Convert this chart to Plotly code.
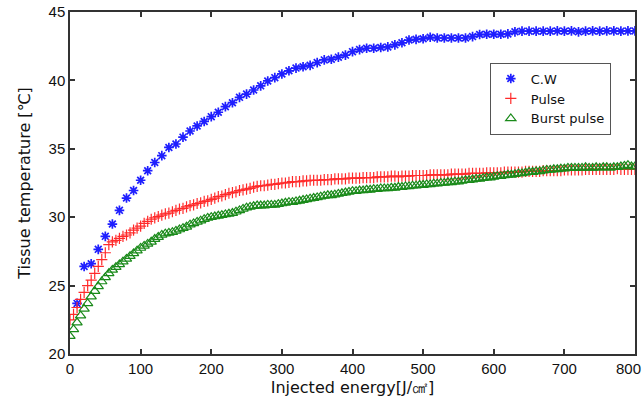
import plotly.graph_objects as go

# Injected energy grids [J/cm^2]
energy_cw = list(range(10, 801, 10))
energy_pulse = list(range(0, 801, 5))
energy_burst = list(range(0, 801, 5))

# Tissue temperature [°C] for continuous-wave irradiation
temp_cw = [
    23.7, 26.4, 26.6, 27.65, 28.6, 29.5, 30.5, 31.4, 31.95, 32.7,
    33.4, 34.0, 34.5, 35.1, 35.35, 35.85, 36.3, 36.67, 37.0, 37.35,
    37.67, 38.08, 38.37, 38.76, 39.0, 39.3, 39.6, 39.96, 40.2, 40.47,
    40.7, 40.9, 41.0, 41.1, 41.3, 41.5, 41.55, 41.7, 41.85, 42.1,
    42.25, 42.35, 42.35, 42.4, 42.45, 42.6, 42.75, 42.95, 43.0, 43.05,
    43.15, 43.1, 43.1, 43.1, 43.1, 43.1, 43.2, 43.35, 43.37, 43.37,
    43.37, 43.4, 43.55, 43.6, 43.6, 43.6, 43.6, 43.6, 43.62, 43.6,
    43.62, 43.55, 43.6, 43.62, 43.6, 43.62, 43.62, 43.6, 43.62, 43.62,
]

# Tissue temperature [°C] for pulse irradiation
temp_pulse = [
    22.5, 22.9, 23.4, 24.0, 24.5, 25.0, 25.4, 25.9, 26.4, 26.9,
    27.4, 28.0, 28.2, 28.3, 28.45, 28.6, 28.7, 28.85, 29.05, 29.2,
    29.35, 29.55, 29.7, 29.85, 29.95, 30.05, 30.15, 30.25, 30.3, 30.4,
    30.5, 30.6, 30.65, 30.75, 30.85, 30.9, 31.0, 31.05, 31.15, 31.2,
    31.3, 31.4, 31.5, 31.55, 31.65, 31.75, 31.8, 31.85, 31.95, 32.0,
    32.05, 32.1, 32.2, 32.25, 32.3, 32.3, 32.35, 32.4, 32.4, 32.45,
    32.5, 32.5, 32.55, 32.6, 32.6, 32.6, 32.65, 32.65, 32.7, 32.7,
    32.7, 32.7, 32.75, 32.75, 32.75, 32.8, 32.8, 32.8, 32.8, 32.85,
    32.85, 32.85, 32.85, 32.9, 32.9, 32.9, 32.9, 32.95, 32.95, 32.95,
    32.95, 33.0, 33.0, 32.95, 33.0, 33.0, 33.0, 33.05, 33.05, 33.05,
    33.05, 33.05, 33.1, 33.1, 33.1, 33.1, 33.1, 33.1, 33.15, 33.15,
    33.15, 33.15, 33.15, 33.2, 33.2, 33.2, 33.2, 33.2, 33.25, 33.25,
    33.25, 33.25, 33.25, 33.3, 33.3, 33.3, 33.3, 33.3, 33.3, 33.35,
    33.35, 33.35, 33.35, 33.35, 33.4, 33.4, 33.4, 33.4, 33.4, 33.4,
    33.45, 33.45, 33.45, 33.45, 33.45, 33.45, 33.5, 33.5, 33.5, 33.5,
    33.5, 33.5, 33.5, 33.5, 33.5, 33.55, 33.5, 33.5, 33.5, 33.5,
    33.5,
]

# Tissue temperature [°C] for burst-pulse irradiation
temp_burst = [
    21.3, 21.8, 22.3, 22.8, 23.3, 23.7, 24.2, 24.6, 24.95, 25.3,
    25.6, 25.9, 26.15, 26.35, 26.55, 26.75, 26.95, 27.15, 27.35, 27.55,
    27.75, 27.9, 28.05, 28.2, 28.4, 28.55, 28.7, 28.8, 28.85, 28.9,
    29.0, 29.1, 29.2, 29.3, 29.45, 29.55, 29.65, 29.75, 29.85, 29.95,
    30.0, 30.05, 30.1, 30.15, 30.2, 30.25, 30.3, 30.4, 30.5, 30.6,
    30.7, 30.75, 30.8, 30.85, 30.85, 30.85, 30.9, 30.9, 30.9, 30.95,
    31.0, 31.05, 31.1, 31.1, 31.15, 31.2, 31.25, 31.3, 31.35, 31.4,
    31.45, 31.5, 31.55, 31.6, 31.6, 31.65, 31.7, 31.75, 31.8, 31.85,
    31.9, 31.9, 31.95, 31.95, 32.0, 32.0, 32.05, 32.05, 32.1, 32.1,
    32.1, 32.15, 32.15, 32.2, 32.2, 32.25, 32.25, 32.3, 32.3, 32.35,
    32.35, 32.4, 32.4, 32.45, 32.45, 32.5, 32.5, 32.55, 32.55, 32.6,
    32.6, 32.65, 32.7, 32.7, 32.75, 32.8, 32.8, 32.85, 32.9, 32.9,
    32.95, 33.0, 33.0, 33.05, 33.1, 33.1, 33.15, 33.2, 33.2, 33.25,
    33.3, 33.3, 33.35, 33.35, 33.4, 33.45, 33.45, 33.5, 33.5, 33.55,
    33.55, 33.6, 33.6, 33.6, 33.6, 33.6, 33.65, 33.6, 33.6, 33.65,
    33.6, 33.65, 33.65, 33.6, 33.65, 33.65, 33.7, 33.75, 33.8, 33.7,
    33.7,
]

x_ticks = [0, 100, 200, 300, 400, 500, 600, 700, 800]
# the last label is placed separately so it stays inside the page
x_ticktext = ["0", "100", "200", "300", "400", "500", "600", "700", ""]
y_ticks = [20, 25, 30, 35, 40, 45]

BLUE = "#1f1fff"
RED = "#ff2a2a"
GREEN = "#1a8a1a"
TEXT_FONT = "DejaVu Sans, sans-serif"
TICK_FONT = dict(family="Liberation Sans, Arial, sans-serif", size=15, color="#111111")

fig = go.Figure()

fig.add_trace(go.Scatter(
    x=energy_cw, y=temp_cw, mode="markers", name="C.W",
    marker=dict(symbol="asterisk-open", size=8, color=BLUE,
                line=dict(color=BLUE, width=1.7)),
))
fig.add_trace(go.Scatter(
    x=energy_pulse, y=temp_pulse, mode="markers", name="Pulse",
    marker=dict(symbol="cross-thin-open", size=8, color=RED,
                line=dict(color=RED, width=1.2)),
))
fig.add_trace(go.Scatter(
    x=energy_burst, y=temp_burst, mode="markers", name="Burst pulse",
    marker=dict(symbol="triangle-up-open", size=9, color=GREEN,
                line=dict(color=GREEN, width=1.2)),
))

axis_common = dict(
    showline=True, linecolor="#333333", linewidth=1.5, mirror="ticks",
    ticks="inside", ticklen=5, tickwidth=1.5, tickcolor="#333333",
    showgrid=False, zeroline=False, automargin=False,
    tickfont=TICK_FONT,
)

fig.add_annotation(
    x=x_ticks[-1], xref="x", y=0, yref="paper",
    text=str(x_ticks[-1]), showarrow=False,
    xanchor="right", yanchor="top", xshift=8, yshift=-4,
    font=TICK_FONT,
)

fig.update_layout(
    width=644, height=407,
    margin=dict(l=70, r=9, t=12, b=53),
    paper_bgcolor="white", plot_bgcolor="white",
    showlegend=True,
    legend=dict(
        x=0.743, y=0.852, xanchor="left", yanchor="top",
        bgcolor="white", bordercolor="#555555", borderwidth=1,
        font=dict(family=TEXT_FONT, size=13, color="#111111"),
        itemsizing="trace", itemwidth=30, tracegroupgap=0,
    ),
    xaxis=dict(
        range=[0, 800], tickvals=x_ticks, ticktext=x_ticktext,
        title=dict(text="Injected energy[J/㎠]", standoff=6,
                   font=dict(family=TEXT_FONT, size=16, color="#111111")),
        **axis_common,
    ),
    yaxis=dict(
        range=[20, 45], tickvals=y_ticks,
        title=dict(text="Tissue temperature [℃]", standoff=14,
                   font=dict(family=TEXT_FONT, size=16, color="#111111")),
        **axis_common,
    ),
)

fig.write_html("out.html")
